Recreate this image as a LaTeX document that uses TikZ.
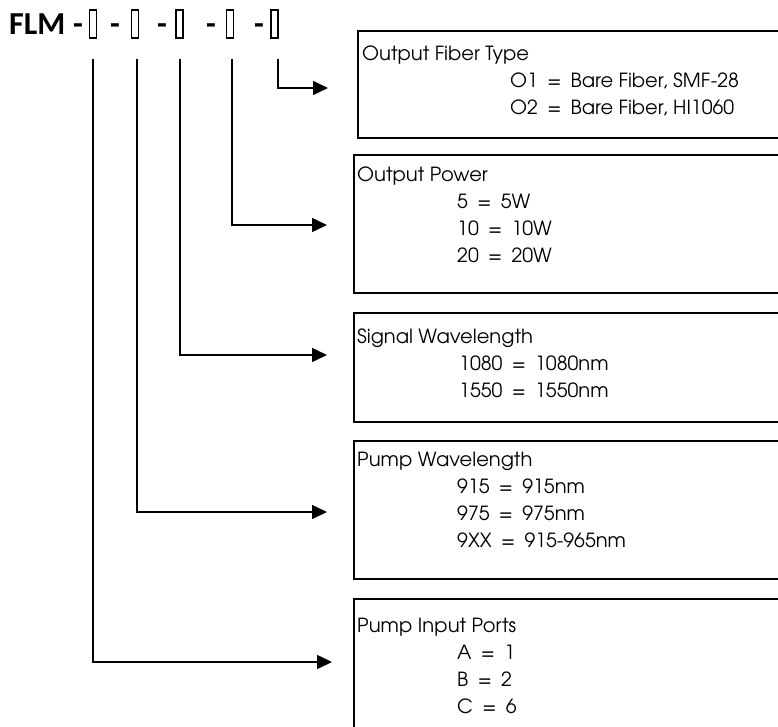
\documentclass[tikz,border=0pt]{standalone}
\usepackage{fontspec}
\setmainfont{TeX Gyre Adventor}
\newfontfamily\codefont{Carlito}
\usetikzlibrary{arrows.meta,calc}

\newcommand{\eqs}{\hspace{0.48em}=\hspace{0.48em}}

\tikzset{
	descbox/.style={draw, line width=2.2pt, anchor=north west, inner sep=0pt},
	desctext/.style={anchor=base west, align=left, inner sep=0pt, font=\fontsize{19.5}{27}\selectfont},
	lead/.style={line width=1.5pt, -{Triangle[length=15pt,width=14pt]}},
	slot/.style={draw, line width=1.3pt, minimum width=7pt, minimum height=28pt, inner sep=0pt},
	codetxt/.style={anchor=base, inner sep=0pt, font=\codefont\bfseries\fontsize{32}{32}\selectfont},
}

\begin{document}
\begin{tikzpicture}[x=1pt,y=-1pt]
		%%%%% START %%%%%
		\useasboundingbox (0,0) rectangle (778,727);
		\clip (0,0) rectangle (778,727);
		
		% order code
		\node[codetxt, anchor=base west] (flm) at (9,35) {FLM};
		\node[codetxt] (d0) at (78,35) {-};
		\node[slot] (c1) at (93,24) {};
		\node[codetxt] (d1) at (115,35) {-};
		\node[slot] (c2) at (135,24) {};
		\node[codetxt] (d2) at (162,35) {-};
		\node[slot] (c3) at (179.5,24) {};
		\node[codetxt] (d3) at (211,35) {-};
		\node[slot] (c4) at (230,24) {};
		\node[codetxt] (d4) at (259,35) {-};
		\node[slot] (c5) at (274.5,24) {};
		
		% boxes
		\node[descbox, minimum width=450pt, minimum height=107pt] (fiber) at (357,30) {};
		\node[desctext] (fibertxt) at (362,115) {Output Fiber Type\\
			\hspace*{148pt}O1\eqs Bare Fiber, SMF-28\\
			\hspace*{148pt}O2\eqs Bare Fiber, HI1060};
		
		\node[descbox, minimum width=450pt, minimum height=138pt] (power) at (353,154) {};
		\node[desctext] (powertxt) at (357,262) {Output Power\\
			\hspace*{100pt}5\eqs 5W\\
			\hspace*{100pt}10\eqs 10W\\
			\hspace*{100pt}20\eqs 20W};
		
		\node[descbox, minimum width=450pt, minimum height=109pt] (signal) at (353,312) {};
		\node[desctext] (signaltxt) at (357,397) {Signal Wavelength\\
			\hspace*{102pt}1080\eqs 1080nm\\
			\hspace*{102pt}1550\eqs 1550nm};
		
		\node[descbox, minimum width=450pt, minimum height=138pt] (pump) at (353,440) {};
		\node[desctext] (pumptxt) at (357,547) {Pump Wavelength\\
			\hspace*{100pt}915\eqs 915nm\\
			\hspace*{100pt}975\eqs 975nm\\
			\hspace*{100pt}9XX\eqs 915-965nm};
		
		\node[descbox, minimum width=450pt, minimum height=160pt] (ports) at (353,598) {};
		\node[desctext] (portstxt) at (357,713) {Pump Input Ports\\
			\hspace*{100pt}A\eqs 1\\
			\hspace*{100pt}B\eqs 2\\
			\hspace*{100pt}C\eqs 6};
		
		% leads
		\coordinate (s1) at ($(c1.south)+(0,20)$);
		\coordinate (s2) at ($(c2.south)+(2,20)$);
		\coordinate (s3) at ($(c3.south)+(0.5,20)$);
		\coordinate (s4) at ($(c4.south)+(2,20)$);
		\coordinate (s5) at ($(c5.south)+(3.5,20)$);
		\coordinate (e1) at ($(ports.north west)+(-21,64)$);
		\coordinate (e2) at ($(pump.north west)+(-26,72)$);
		\coordinate (e3) at ($(signal.north west)+(-26,43)$);
		\coordinate (e4) at ($(power.north west)+(-26,71)$);
		\coordinate (e5) at ($(fiber.north west)+(-29,58)$);
		\draw[lead] (s1) |- (e1);
		\draw[lead] (s2) |- (e2);
		\draw[lead] (s3) |- (e3);
		\draw[lead] (s4) |- (e4);
		\draw[lead] (s5) |- (e5);
		
		%%%%% END %%%%%
	\end{tikzpicture}
\end{document}
